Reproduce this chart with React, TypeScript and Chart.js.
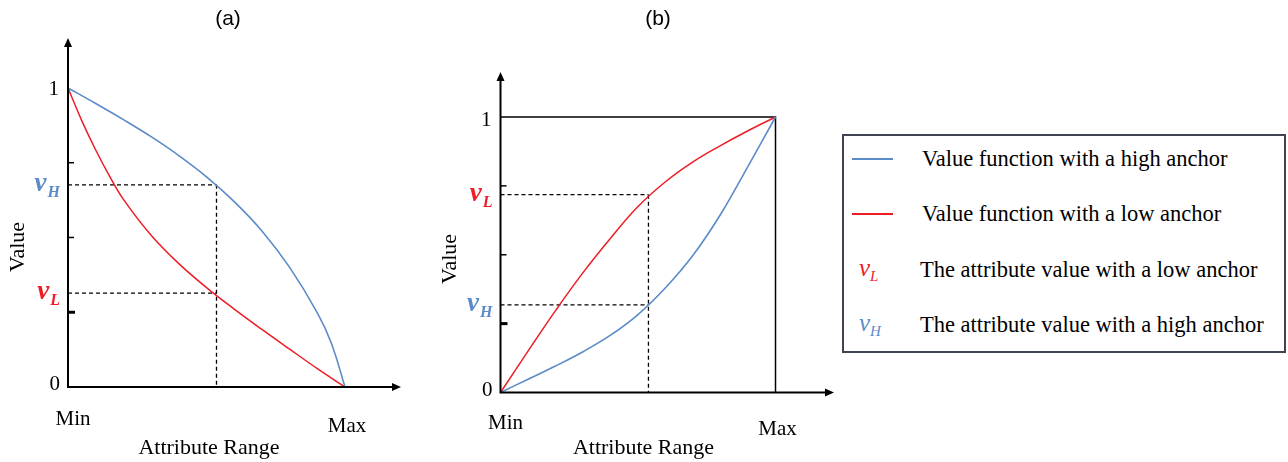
import React, { useEffect, useRef } from "react";
import { Chart, registerables } from "chart.js";

Chart.register(...registerables);

// ---- Data ----
const X_A_HIGH = [0, 0.1, 0.2, 0.3, 0.4, 0.5, 0.6, 0.7, 0.8, 0.9, 0.95, 1];
const HIGH_A = [1, 0.948, 0.894, 0.837, 0.774, 0.703, 0.62, 0.522, 0.4, 0.248, 0.148, 0];
const X_A_LOW = [0, 0.05, 0.1, 0.15, 0.2, 0.3, 0.4, 0.5, 0.6, 0.7, 0.8, 0.9, 1];
const LOW_A = [1, 0.89, 0.7925, 0.705, 0.6275, 0.5075, 0.4125, 0.3325, 0.2605, 0.1925, 0.1265, 0.0615, 0];
const ANCHOR_X_A = 0.536;
const VH_A = 0.676;
const VL_A = 0.314;

const X_B = [0, 0.1, 0.2, 0.3, 0.4, 0.5, 0.6, 0.7, 0.8, 0.9, 1];
const LOW_B = [0, 0.15, 0.297, 0.435, 0.56, 0.675, 0.765, 0.837, 0.896, 0.95, 1];
const HIGH_B = [0, 0.048, 0.096, 0.148, 0.208, 0.283, 0.38, 0.498, 0.646, 0.821, 1];
const ANCHOR_X_B = 0.538;
const VL_B = 0.718;
const VH_B = 0.318;

const Y_TICKS = [0.25, 0.5, 0.75];
const Y_TICK_LABELS = ["0", "1"];
const X_TICK_LABELS = ["Min", "Max"];
const PANEL_TITLES = ["(a)", "(b)"];
const AXIS_TITLES = ["Attribute Range", "Value"];
const LEGEND_LABELS = [
  "Value function with a high anchor",
  "Value function with a low anchor",
  "The attribute value with a low anchor",
  "The attribute value with a high anchor",
];

const BLUE = "#5b8bc8";
const RED = "#ee1c25";
const SERIF = "'Liberation Serif', 'Times New Roman', serif";
const SANS = "'Liberation Sans', Arial, sans-serif";

type PanelCfg = {
  xsHigh: number[];
  xsLow: number[];
  high: number[];
  low: number[];
  ax: number;
  vH: number;
  vL: number;
  box: boolean;
  title: string;
  xmax: number;
  ymax: number;
  padding: { left: number; right: number; top: number; bottom: number };
  titleX: number;
  valueX: number;
  valueY: number;
  minDx: number;
  minY: number;
  maxY: number;
  rangeX: number;
  oneDy: number;
  zeroDy: number;
};

function drawV(ctx: CanvasRenderingContext2D, sub: string, rightX: number, y: number, color: string) {
  ctx.save();
  ctx.fillStyle = color;
  ctx.textBaseline = "alphabetic";
  ctx.textAlign = "left";
  ctx.font = `bold italic 27px ${SERIF}`;
  const wv = ctx.measureText("v").width;
  ctx.font = `bold italic 16px ${SERIF}`;
  const ws = ctx.measureText(sub).width;
  const start = rightX - wv - ws - 1;
  ctx.font = `bold italic 27px ${SERIF}`;
  ctx.fillText("v", start, y + 6);
  ctx.font = `bold italic 16px ${SERIF}`;
  ctx.fillText(sub, start + wv + 1, y + 12);
  ctx.restore();
}

function makePlugin(cfg: PanelCfg) {
  return {
    id: "panelDecor",
    afterDatasetsDraw(chart: any) {
      const ctx: CanvasRenderingContext2D = chart.ctx;
      const xs = chart.scales.x;
      const ys = chart.scales.y;
      const x0 = xs.getPixelForValue(0);
      const y0 = ys.getPixelForValue(0);
      const x1 = xs.getPixelForValue(1);
      const y1 = ys.getPixelForValue(1);
      const xEnd = xs.getPixelForValue(cfg.xmax);
      const yEnd = ys.getPixelForValue(cfg.ymax);
      ctx.save();
      ctx.strokeStyle = "#000";
      ctx.fillStyle = "#000";
      ctx.lineWidth = 2;
      ctx.beginPath();
      ctx.moveTo(x0, y0);
      ctx.lineTo(x0, yEnd + 7);
      ctx.moveTo(x0 - 1, y0);
      ctx.lineTo(xEnd - 7, y0);
      ctx.stroke();
      ctx.beginPath();
      ctx.moveTo(x0, yEnd);
      ctx.lineTo(x0 - 4, yEnd + 9);
      ctx.lineTo(x0 + 4, yEnd + 9);
      ctx.closePath();
      ctx.fill();
      ctx.beginPath();
      ctx.moveTo(xEnd, y0);
      ctx.lineTo(xEnd - 9, y0 - 4);
      ctx.lineTo(xEnd - 9, y0 + 4);
      ctx.closePath();
      ctx.fill();
      Y_TICKS.forEach((t, i) => {
        const ty = ys.getPixelForValue(t);
        ctx.lineWidth = i === 0 ? 3 : 1.5;
        ctx.beginPath();
        ctx.moveTo(x0, ty);
        ctx.lineTo(x0 + (i === 0 ? 7 : 6), ty);
        ctx.stroke();
      });
      ctx.font = `21px ${SERIF}`;
      ctx.textAlign = "right";
      ctx.textBaseline = "middle";
      ctx.fillText(Y_TICK_LABELS[0], x0 - 8, y0 + cfg.zeroDy);
      ctx.fillText(Y_TICK_LABELS[1], x0 - 9, y1 + cfg.oneDy);
      drawV(ctx, "H", x0 - 8, ys.getPixelForValue(cfg.vH), BLUE);
      drawV(ctx, "L", x0 - 8, ys.getPixelForValue(cfg.vL), RED);
      ctx.textAlign = "center";
      ctx.fillText(X_TICK_LABELS[0], x0 + cfg.minDx, cfg.minY);
      ctx.fillText(X_TICK_LABELS[1], x1 + 2, cfg.maxY);
      ctx.font = `22px ${SERIF}`;
      ctx.fillText(AXIS_TITLES[0], cfg.rangeX, 448);
      ctx.save();
      ctx.translate(cfg.valueX, cfg.valueY);
      ctx.rotate(-Math.PI / 2);
      ctx.fillText(AXIS_TITLES[1], 0, 0);
      ctx.restore();
      ctx.font = `21px ${SANS}`;
      ctx.fillText(cfg.title, cfg.titleX, 19);
      ctx.restore();
    },
  };
}

function Panel({ cfg, left, width }: { cfg: PanelCfg; left: number; width: number }) {
  const ref = useRef<HTMLCanvasElement>(null);
  useEffect(() => {
    const canvas = ref.current!;
    const pts = (xs: number[], ys: number[]) => xs.map((x, i) => ({ x, y: ys[i] }));
    const dash = { borderColor: "#000", borderWidth: 1.3, borderDash: [4, 3], pointRadius: 0, clip: false as any, tension: 0, fill: false };
    const curve = { pointRadius: 0, tension: 0.4, cubicInterpolationMode: "default", clip: false, fill: false };
    const datasets: any[] = [
      { label: "high", data: pts(cfg.xsHigh, cfg.high), borderColor: BLUE, borderWidth: 1.6, ...curve },
      { label: "low", data: pts(cfg.xsLow, cfg.low), borderColor: RED, borderWidth: 1.5, ...curve },
      { label: "hH", data: [{ x: 0, y: cfg.vH }, { x: cfg.ax, y: cfg.vH }], ...dash },
      { label: "hL", data: [{ x: 0, y: cfg.vL }, { x: cfg.ax, y: cfg.vL }], ...dash },
      { label: "v", data: [{ x: cfg.ax, y: Math.max(cfg.vH, cfg.vL) }, { x: cfg.ax, y: 0 }], ...dash },
    ];
    if (cfg.box) {
      datasets.push({ label: "box", data: [{ x: 0, y: 1 }, { x: 1, y: 1 }, { x: 1, y: 0 }], borderColor: "#000", borderWidth: 1.5, pointRadius: 0, tension: 0, clip: false, fill: false });
    }
    const chart = new Chart(canvas, {
      type: "line",
      data: { datasets },
      options: {
        animation: false,
        responsive: false,
        devicePixelRatio: 1,
        layout: { padding: cfg.padding },
        plugins: { legend: { display: false }, tooltip: { enabled: false } },
        scales: {
          x: { type: "linear", min: 0, max: cfg.xmax, display: false },
          y: { type: "linear", min: 0, max: cfg.ymax, display: false },
        },
      },
      plugins: [makePlugin(cfg)],
    } as any);
    return () => chart.destroy();
  }, []);
  return <canvas ref={ref} width={width} height={462} style={{ position: "absolute", left, top: 0, width, height: 462 }} />;
}

const cfgA: PanelCfg = {
  xsHigh: X_A_HIGH, xsLow: X_A_LOW, high: HIGH_A, low: LOW_A, ax: ANCHOR_X_A, vH: VH_A, vL: VL_A, box: false, title: PANEL_TITLES[0],
  xmax: 1.202, ymax: 1.167, padding: { left: 68, right: 19, top: 38, bottom: 75 },
  titleX: 228, valueX: 18, valueY: 247, minDx: 5, minY: 419, maxY: 426, rangeX: 209, oneDy: 2, zeroDy: -3,
};
const cfgB: PanelCfg = {
  xsHigh: X_B, xsLow: X_B, high: HIGH_B, low: LOW_B, ax: ANCHOR_X_B, vH: VH_B, vL: VL_B, box: true, title: PANEL_TITLES[1],
  xmax: 1.2127, ymax: 1.1633, padding: { left: 70.5, right: 8, top: 72, bottom: 69.5 },
  titleX: 228, valueX: 20.5, valueY: 259, minDx: 5, minY: 423, maxY: 429, rangeX: 213.5, oneDy: 3, zeroDy: -2,
};

function Legend() {
  const rowY = [159, 214, 270, 325];
  const row = (i: number, marker: React.ReactNode, textLeft: number) => (
    <div key={i} style={{ position: "absolute", left: 0, top: rowY[i] - 134 - 14, height: 28, width: 444 }}>
      {marker}
      <span style={{ position: "absolute", left: textLeft - 842, top: 0, lineHeight: "28px", fontFamily: SERIF, fontSize: 22.5, color: "#000", whiteSpace: "nowrap" }}>
        {LEGEND_LABELS[i]}
      </span>
    </div>
  );
  const line = (c: string) => <div style={{ position: "absolute", left: 10, top: 13, width: 41, height: 0, borderTop: `2px solid ${c}` }} />;
  const sym = (sub: string, c: string) => (
    <span style={{ position: "absolute", left: 17, top: -2, fontFamily: SERIF, fontStyle: "italic", fontSize: 25, color: c, whiteSpace: "nowrap", lineHeight: "28px" }}>
      v<sub style={{ fontSize: 15, verticalAlign: "-5px" }}>{sub}</sub>
    </span>
  );
  return (
    <div style={{ position: "absolute", left: 842, top: 134, width: 444, height: 219, boxSizing: "border-box", border: "2px solid #3e4550" }}>
      <div style={{ position: "absolute", left: -2, top: -2, width: 444, height: 219 }}>
        {row(0, line(BLUE), 922)}
        {row(1, line(RED), 922)}
        {row(2, sym("L", RED), 920)}
        {row(3, sym("H", BLUE), 920)}
      </div>
    </div>
  );
}

export default function App() {
  return (
    <div style={{ position: "absolute", left: 0, top: 0, width: 1288, height: 462, background: "#fff", overflow: "hidden" }}>
      <Panel cfg={cfgA} left={0} width={420} />
      <Panel cfg={cfgB} left={430} width={412} />
      <Legend />
    </div>
  );
}
